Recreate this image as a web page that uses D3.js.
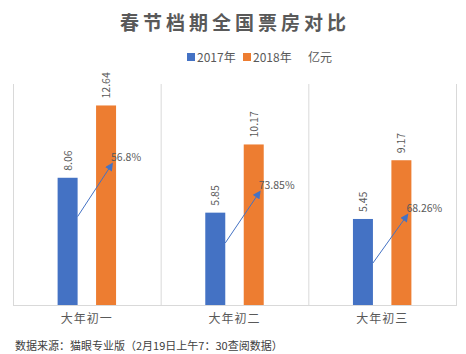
<!DOCTYPE html>
<html>
<head>
<meta charset="utf-8">
<script src="https://cdn.jsdelivr.net/npm/d3@7"></script>
<style>
	body { margin: 0; background: #fff; }
	svg { display: block; font-family: "Noto Sans CJK SC", "Noto Sans", sans-serif; }
</style>
</head>
<body>
<div id="chart"></div>
<script>
var categories = ["大年初一", "大年初二", "大年初三"];
var seriesNames = ["2017年", "2018年"];
var values2017 = [8.06, 5.85, 5.45];
var values2018 = [12.64, 10.17, 9.17];
var growthLabels = ["56.8%", "73.85%", "68.26%"];
// arrows drawn by hand on the original, read in value units
var arrowFrom = [5.6, 3.93, 2.66];
var arrowTo = [8.94, 7.17, 5.71];
var unitLabel = "亿元";
var titleText = "春节档期全国票房对比";
var sourceText = "数据来源：猫眼专业版（2月19日上午7：30查阅数据）";

var colors = ["#4472c4", "#ed7d31"];
var textColor = "#595959";

var width = 466, height = 354;
var plot = {left: 13, right: 456, top: 84, bottom: 305};

var svg = d3.select("#chart").append("svg")
	.attr("width", width)
	.attr("height", height);

var defs = svg.append("defs");
defs.append("marker")
	.attr("id", "arrow")
	.attr("viewBox", "0 0 10 10")
	.attr("refX", 8).attr("refY", 5)
	.attr("markerWidth", 9).attr("markerHeight", 8)
	.attr("orient", "auto")
	.append("path")
	.attr("d", "M0,0 L10,5 L0,10 z")
	.attr("fill", colors[0]);

// Scales
var x = d3.scaleBand()
	.domain(categories)
	.range([plot.left, plot.right])
	.padding(0);
var xs = d3.scaleBand()
	.domain(seriesNames)
	.range([0, x.bandwidth()])
	.paddingInner(0.48)
	.paddingOuter(1.16);
var y = d3.scaleLinear()
	.domain([0, 14])
	.range([plot.bottom, plot.top]);

var data = categories.map(function(c, i){
	return {key: c, values: [values2017[i], values2018[i]], growth: growthLabels[i], from: arrowFrom[i], to: arrowTo[i]};
});

// Title
svg.append("text")
	.attr("x", 235).attr("y", 30)
	.attr("text-anchor", "middle")
	.attr("font-size", "19px")
	.attr("font-weight", "bold")
	.attr("letter-spacing", "4px")
	.attr("fill", textColor)
	.text(titleText);

// Legend
var legend = svg.append("g").attr("transform", "translate(187,57)");
var legendX = [0, 56];
seriesNames.forEach(function(s, i){
	var g = legend.append("g").attr("transform", "translate(" + legendX[i] + ",0)");
	g.append("rect").attr("x", 0).attr("y", -4).attr("width", 8).attr("height", 8).attr("fill", colors[i]);
	g.append("text").attr("x", 10).attr("y", 4.5)
		.attr("font-size", "12px").attr("fill", textColor).text(s);
});
legend.append("text").attr("x", 121).attr("y", 4.5)
	.attr("font-size", "12px").attr("fill", textColor).text(unitLabel);

// Category separators
var sepX = categories.map(function(c){ return x(c); }).concat([plot.right]);
svg.append("g").selectAll("line")
	.data(sepX)
	.enter().append("line")
	.attr("x1", function(d){ return d + 0.5; })
	.attr("x2", function(d){ return d + 0.5; })
	.attr("y1", plot.top)
	.attr("y2", plot.bottom)
	.attr("stroke", "#d9d9d9");

// Bars
var groups = svg.append("g").selectAll("g.cat")
	.data(data)
	.enter().append("g")
	.attr("class", "cat")
	.attr("transform", function(d){ return "translate(" + x(d.key) + ",0)"; });

groups.selectAll("rect")
	.data(function(d){ return d.values.map(function(v, i){ return {s: seriesNames[i], v: v, i: i}; }); })
	.enter().append("rect")
	.attr("x", function(d){ return xs(d.s); })
	.attr("y", function(d){ return y(d.v); })
	.attr("width", xs.bandwidth())
	.attr("height", function(d){ return plot.bottom - y(d.v); })
	.attr("fill", function(d){ return colors[d.i]; });

// Value labels (rotated)
groups.selectAll("text.val")
	.data(function(d){ return d.values.map(function(v, i){ return {s: seriesNames[i], v: v}; }); })
	.enter().append("text")
	.attr("class", "val")
	.attr("transform", function(d){
		return "translate(" + (xs(d.s) + xs.bandwidth()/2 + 4) + "," + (y(d.v) - 7) + ") rotate(-90)";
	})
	.attr("font-size", "10.5px")
	.attr("fill", textColor)
	.text(function(d){ return d.v.toFixed(2); });

// Axis baseline
svg.append("line")
	.attr("x1", plot.left).attr("x2", plot.right + 1)
	.attr("y1", plot.bottom + 0.5).attr("y2", plot.bottom + 0.5)
	.attr("stroke", "#d9d9d9");

// Category labels
svg.append("g").selectAll("text")
	.data(categories)
	.enter().append("text")
	.attr("x", function(d){ return x(d) + x.bandwidth()/2; })
	.attr("y", 323)
	.attr("text-anchor", "middle")
	.attr("font-size", "12px")
	.attr("letter-spacing", "1px")
	.attr("fill", textColor)
	.text(function(d){ return d; });

// Growth arrows
groups.append("line")
	.attr("x1", xs(seriesNames[0]) + xs.bandwidth())
	.attr("y1", function(d){ return y(d.from); })
	.attr("x2", xs(seriesNames[1]) + xs.bandwidth() * 0.8)
	.attr("y2", function(d){ return y(d.to); })
	.attr("stroke", colors[0])
	.attr("stroke-width", 1)
	.attr("marker-end", "url(#arrow)");

groups.append("text")
	.attr("x", xs(seriesNames[1]) + xs.bandwidth() * 0.8 - 1)
	.attr("y", function(d){ return y(d.to) - 3; })
	.attr("font-size", "10.5px")
	.attr("fill", textColor)
	.text(function(d){ return d.growth; });

// Source note
svg.append("text")
	.attr("x", 15).attr("y", 350)
	.attr("font-size", "11px")
	.attr("fill", "#404040")
	.text(sourceText);
</script>
</body>
</html>
